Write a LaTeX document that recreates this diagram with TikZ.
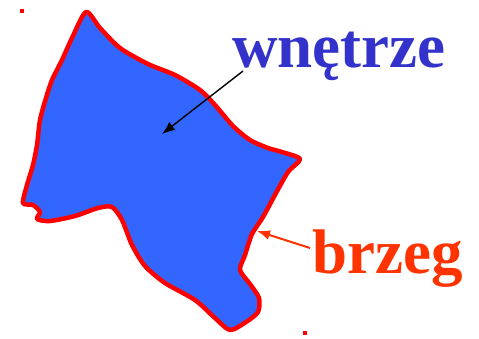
\documentclass[tikz,border=0pt]{standalone}
\usepackage{fontspec}
\setmainfont{Liberation Serif}
\usetikzlibrary{arrows.meta}
\definecolor{fillblue}{HTML}{3366FF}
\definecolor{edgered}{HTML}{FF0000}
\definecolor{txtblue}{HTML}{3333CC}
\definecolor{txtorange}{HTML}{FF3300}
\tikzset{
  lbl/.style={anchor=base west, inner sep=0pt, font=\fontsize{63}{63}\selectfont\bfseries},
  dot/.style={fill=edgered, draw=none},
}
\begin{document}
\begin{tikzpicture}[x=1pt,y=-1pt]
\useasboundingbox (0,0) rectangle (479,338);
\draw[edgered, line width=4.5pt, fill=fillblue, line join=round]
  plot[smooth cycle, tension=0.45] coordinates {
  (86,12) (100,28) (120,48) (148,64) (175,75) (200,90) (215,105) (233,126)
  (250,140) (268,148) (282,152) (300,159) (288,172) (276,193) (263,217)
  (252,234) (245,255) (240,270) (250,284) (259,298) (258,312) (246,322)
  (230,330) (215,318) (195,300) (165,283) (145,266) (132,245) (122,220)
  (112,207) (98,208) (75,216) (50,221) (37,219) (40,212) (33,205) (23,203)
  (27,185) (33,165) (37,145) (40,120) (46,98) (52,80) (62,60) (72,38)};
\node[lbl, text=txtblue] (wn) at (232,67) {wnętrze};
\node[lbl, text=txtorange] (br) at (312,273) {brzeg};
\coordinate (wtail) at (243,71);
\coordinate (whead) at (162,134);
\coordinate (btail) at (310,248);
\coordinate (bhead) at (257,231);
\draw[black, line width=1.4pt, -{Latex[length=13pt,width=10pt]}] (wtail) -- (whead);
\draw[txtorange, line width=2pt, -{Latex[length=13pt,width=10pt]}] (btail) -- (bhead);
\fill[dot] (20,9) rectangle (24,13);
\fill[dot] (303,331) rectangle (307,335);
\end{tikzpicture}
\end{document}
